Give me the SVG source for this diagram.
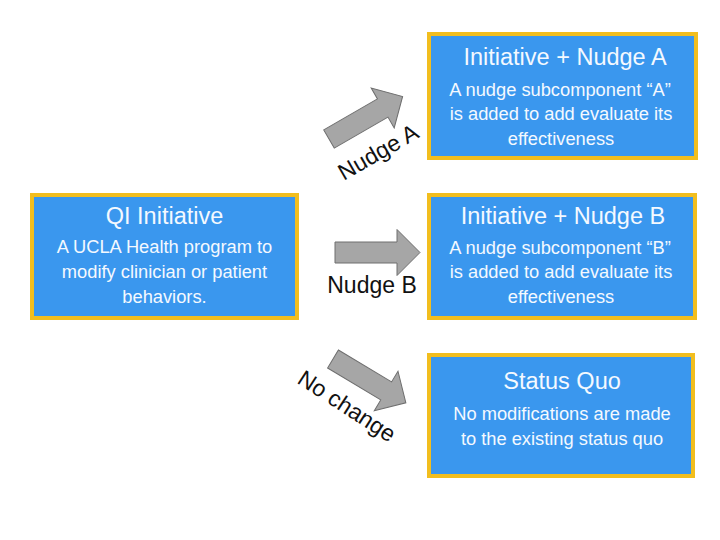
<svg xmlns="http://www.w3.org/2000/svg" width="720" height="540" viewBox="0 0 720 540">
  <defs>
    <style>
      .box { fill: #3A97EE; stroke: #F2BE1E; stroke-width: 4; }
      .title { font-family: "Liberation Sans", Arial, sans-serif; font-size: 23.5px; fill: #F4F9FF; text-anchor: middle; }
      .body { font-family: "Liberation Sans", Arial, sans-serif; font-size: 18.3px; fill: #F4F9FF; text-anchor: middle; }
      .arrow { fill: #A6A6A6; stroke: #6E6E6E; stroke-width: 1; }
      .label { font-family: "Liberation Sans", Arial, sans-serif; font-size: 23px; fill: #111111; text-anchor: middle; }
    </style>
    <path id="bigArrow" d="M0,-10.5 H62 V-23 L85,0 L62,23 V10.5 H0 Z"/>
  </defs>
  <rect width="720" height="540" fill="#FFFFFF"/>

  <g id="qi-initiative">
    <rect class="box" x="32" y="195" width="265" height="123"/>
    <text class="title" x="164.5" y="224">QI Initiative</text>
    <text class="body" x="164.5" y="253">A UCLA Health program to</text>
    <text class="body" x="164.5" y="278">modify clinician or patient</text>
    <text class="body" x="164.5" y="303">behaviors.</text>
  </g>

  <g id="initiative-nudge-a">
    <rect class="box" x="429" y="34" width="267" height="124"/>
    <text class="title" x="565" y="65">Initiative + Nudge A</text>
    <text class="body" x="560" y="96">A nudge subcomponent “A”</text>
    <text class="body" x="561" y="120">is added to add evaluate its</text>
    <text class="body" x="561" y="145">effectiveness</text>
  </g>

  <g id="initiative-nudge-b">
    <rect class="box" x="429" y="195" width="266" height="123"/>
    <text class="title" x="563" y="224">Initiative + Nudge B</text>
    <text class="body" x="560" y="254">A nudge subcomponent “B”</text>
    <text class="body" x="561" y="278">is added to add evaluate its</text>
    <text class="body" x="561" y="303">effectiveness</text>
  </g>

  <g id="status-quo">
    <rect class="box" x="429" y="355" width="264" height="121"/>
    <text class="title" x="562" y="389">Status Quo</text>
    <text class="body" x="562" y="420">No modifications are made</text>
    <text class="body" x="562" y="445">to the existing status quo</text>
  </g>

  <g id="connectors">
    <use href="#bigArrow" class="arrow" transform="translate(329,139) rotate(-30)"/>
    <use href="#bigArrow" class="arrow" transform="translate(335,252.5)"/>
    <use href="#bigArrow" class="arrow" transform="translate(333,359) rotate(31)"/>
    <text class="label" transform="translate(378,152) rotate(-30)" y="8">Nudge A</text>
    <text class="label" x="372" y="293">Nudge B</text>
    <text class="label" transform="translate(347,406) rotate(33)" y="8">No change</text>
  </g>
</svg>
